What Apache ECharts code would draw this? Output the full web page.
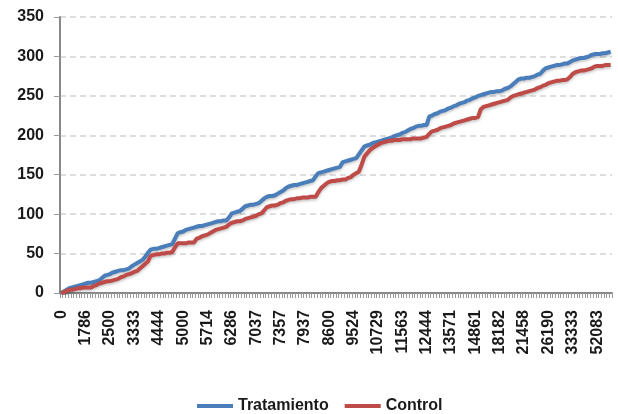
<!DOCTYPE html>
<html>
<head>
<meta charset="utf-8">
<script src="https://cdn.jsdelivr.net/npm/echarts@6/dist/echarts.min.js"></script>
<style>
html,body{margin:0;padding:0;background:#fff;}
#c{width:618px;height:414px;}
</style>
</head>
<body>
<div id="c"></div>
<script>
const tickLabels = ['0','1786','2500','3333','4444','5000','5714','6286','7037','7357','7937','8600','9524','10729','11563','12444','13571','14861','18182','21458','26190','33333','52083'];
const seriesNames = ['Tratamiento', 'Control'];
const tratamiento = [
0,2,4,6,7,8,9,10,11,12,
13,13,14,15,16,19,22,23,24,26,
27,28,29,29,30,31,34,36,38,40,
42,46,51,55,56,56,57,58,59,60,
61,62,69,76,77,78,80,81,82,83,
84,85,85,86,87,88,89,90,91,91,
92,92,96,101,102,103,104,107,110,111,
112,112,113,114,117,120,122,123,123,124,
126,128,130,133,135,136,137,137,138,139,
140,141,142,143,148,152,153,154,155,156,
157,158,159,160,166,167,168,169,170,171,
176,181,186,187,188,190,191,192,193,194,
195,196,197,199,200,201,203,204,206,208,
209,211,212,212,213,213,224,225,227,228,
230,231,232,234,235,237,238,240,241,242,
244,245,247,248,250,251,252,253,254,255,
255,256,256,257,259,260,262,265,268,271,
272,272,273,273,274,275,277,278,282,285,
286,287,288,289,289,290,291,291,293,295,
296,297,298,298,299,300,302,303,303,303,
304,304,305,306
];
const control = [
0,1,3,4,4,5,6,6,7,7,
7,7,9,10,12,13,14,15,15,16,
17,18,20,21,23,24,25,27,28,31,
34,37,40,47,48,49,49,50,50,51,
51,52,58,63,63,63,63,64,64,64,
69,70,72,73,74,76,78,80,81,82,
83,84,87,89,90,91,91,92,94,95,
96,97,98,100,101,105,109,110,111,111,
112,114,115,117,118,119,119,120,120,121,
121,121,122,122,122,128,133,136,139,141,
142,142,143,143,144,144,146,147,150,152,
154,163,173,177,181,184,186,188,190,191,
192,193,193,194,194,194,195,195,195,195,
196,196,196,196,197,198,202,205,206,207,
209,210,211,212,213,215,216,217,218,219,
220,221,222,222,223,233,236,237,238,239,
240,241,242,243,244,245,248,250,251,252,
253,254,255,256,257,258,260,261,263,264,
266,267,268,269,269,270,270,271,274,278,
280,281,282,282,283,284,285,287,288,288,
288,289,289,289
];
const labelStep = 9;
const categories = tratamiento.map((_, i) => i % labelStep === 0 ? tickLabels[i / labelStep] : String(i));

const FONT = '"Liberation Sans", Arial, sans-serif';
const chart = echarts.init(document.getElementById('c'), null, {renderer: 'canvas'});
chart.setOption({
  animation: false,
  backgroundColor: '#ffffff',
  grid: {left: 60, right: 6, top: 17, bottom: 121, containLabel: false},
  legend: {
    left: 197, top: 398, padding: 0,
    itemWidth: 36, itemHeight: 4, itemGap: 16,
    icon: 'rect',
    textStyle: {fontFamily: FONT, fontWeight: 'bold', fontSize: 16, color: '#1a1a1a'},
    data: seriesNames
  },
  xAxis: {
    type: 'category',
    data: categories,
    boundaryGap: true,
    axisLine: {lineStyle: {color: '#888888', width: 2}},
    axisTick: {show: true, interval: 0, length: 5, lineStyle: {color: '#999999', width: 1}},
    axisLabel: {
      interval: labelStep - 1, rotate: 90, margin: 17,
      fontFamily: FONT, fontWeight: 'bold', fontSize: 16, color: '#1a1a1a'
    },
    splitLine: {show: false}
  },
  yAxis: {
    type: 'value', min: 0, max: 350, interval: 50,
    axisLine: {show: true, lineStyle: {color: '#888888', width: 2}},
    axisTick: {show: true, length: 6, lineStyle: {color: '#999999', width: 1}},
    axisLabel: {margin: 16, fontFamily: FONT, fontWeight: 'bold', fontSize: 16, color: '#1a1a1a'},
    splitLine: {show: true, lineStyle: {color: '#d4d4d4', width: 1.5, type: [6, 4]}}
  },
  series: [
    {
      name: seriesNames[0], type: 'line', data: tratamiento,
      showSymbol: false, symbol: 'none',
      lineStyle: {color: '#4a7ebb', width: 4, shadowColor: 'rgba(0,0,0,0.25)', shadowBlur: 3, shadowOffsetY: 1.5},
      itemStyle: {color: '#4a7ebb'}
    },
    {
      name: seriesNames[1], type: 'line', data: control,
      showSymbol: false, symbol: 'none',
      lineStyle: {color: '#be4b48', width: 4, shadowColor: 'rgba(0,0,0,0.25)', shadowBlur: 3, shadowOffsetY: 1.5},
      itemStyle: {color: '#be4b48'}
    }
  ]
});
</script>
</body>
</html>
